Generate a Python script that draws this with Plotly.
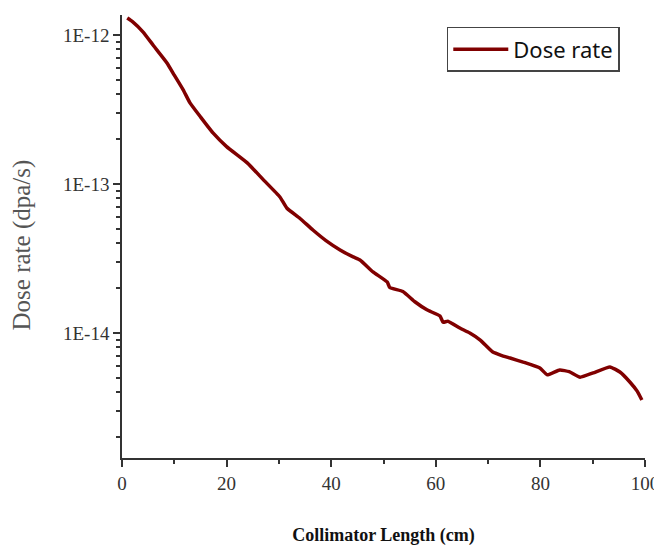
import plotly.graph_objects as go

# Collimator length (cm)
length_cm = [1, 2, 4, 6, 8.6, 10, 11.7, 13, 15, 17.4, 20, 24, 27, 30.2, 31.5, 34, 36.5, 39,
             41.7, 44.2, 45.5, 48, 50.7, 51.2, 53.7, 56, 58.3, 60.8, 61.4, 62.3, 64.6, 66.5,
             68.5, 70.9, 72.5, 74.2, 76.7, 79.9, 81.3, 83.7, 85.5, 87.6, 90.1, 93.3, 95.2,
             97.1, 98.5, 99.4]
# Dose rate (dpa/s)
dose_rate = [1.30e-12, 1.23e-12, 1.05e-12, 8.5e-13, 6.49e-13, 5.37e-13, 4.28e-13, 3.50e-13,
             2.82e-13, 2.20e-13, 1.78e-13, 1.38e-13, 1.07e-13, 8.18e-14, 6.90e-14, 5.89e-14,
             4.91e-14, 4.17e-14, 3.61e-14, 3.24e-14, 3.09e-14, 2.57e-14, 2.20e-14, 2.02e-14,
             1.90e-14, 1.62e-14, 1.43e-14, 1.30e-14, 1.18e-14, 1.20e-14, 1.08e-14, 1.00e-14,
             8.97e-15, 7.45e-15, 7.08e-15, 6.79e-15, 6.38e-15, 5.82e-15, 5.24e-15, 5.65e-15,
             5.50e-15, 5.05e-15, 5.40e-15, 5.92e-15, 5.47e-15, 4.69e-15, 4.07e-15, 3.55e-15]

y_tickvals = [1e-12, 1e-13, 1e-14]
y_ticktext = ["1E-12", "1E-13", "1E-14"]

fig = go.Figure()
fig.add_trace(go.Scatter(
    x=length_cm, y=dose_rate, mode="lines", name="Dose rate",
    line=dict(color="#800000", width=3.5, shape="spline", smoothing=0.4),
))

serif = "Liberation Serif, Times New Roman, serif"
fig.update_layout(
    width=654, height=541,
    margin=dict(l=114, r=17, t=7, b=91),
    paper_bgcolor="white", plot_bgcolor="white",
    font=dict(family=serif, color="#222222", size=17),
    showlegend=True,
    legend=dict(x=0.621, y=0.973, xanchor="left", yanchor="top",
                bordercolor="#444444", borderwidth=1.5, bgcolor="white",
                font=dict(family="Noto Sans, DejaVu Sans, sans-serif", size=22, color="#111111"),
                itemwidth=55, entrywidth=160, tracegroupgap=0),
    xaxis=dict(range=[0, 100], tickvals=[0, 20, 40, 60, 80, 100], automargin=False,
               ticks="outside", ticklen=7, tickwidth=1.5, tickcolor="#333333",
               showline=True, linecolor="#333333", linewidth=1.5,
               showgrid=False, zeroline=False,
               tickfont=dict(family=serif, size=19, color="#333333"),
               minor=dict(dtick=10, ticks="outside", ticklen=4,
                          tickwidth=1.5, tickcolor="#333333", showgrid=False),
               title=dict(text="<b>Collimator Length (cm)</b>",
                          font=dict(family=serif, size=18, color="#111111"),
                          standoff=36)),
    yaxis=dict(type="log", range=[-14.839, -11.866], automargin=False,
               tickvals=y_tickvals, ticktext=y_ticktext,
               ticks="outside", ticklen=7, tickwidth=1.5, tickcolor="#333333",
               showline=True, linecolor="#333333", linewidth=1.5,
               showgrid=False, zeroline=False,
               tickfont=dict(family=serif, size=19, color="#333333"),
               minor=dict(dtick="D1", ticks="outside", ticklen=4,
                          tickwidth=1.5, tickcolor="#333333", showgrid=False)),
)
fig.add_annotation(text="Dose rate (dpa/s)", xref="paper", yref="paper",
                   x=-0.191, y=0.48, xanchor="center", yanchor="middle",
                   textangle=-90, showarrow=False,
                   font=dict(family=serif, size=25, color="#555555"))

fig.write_html("out.html")
